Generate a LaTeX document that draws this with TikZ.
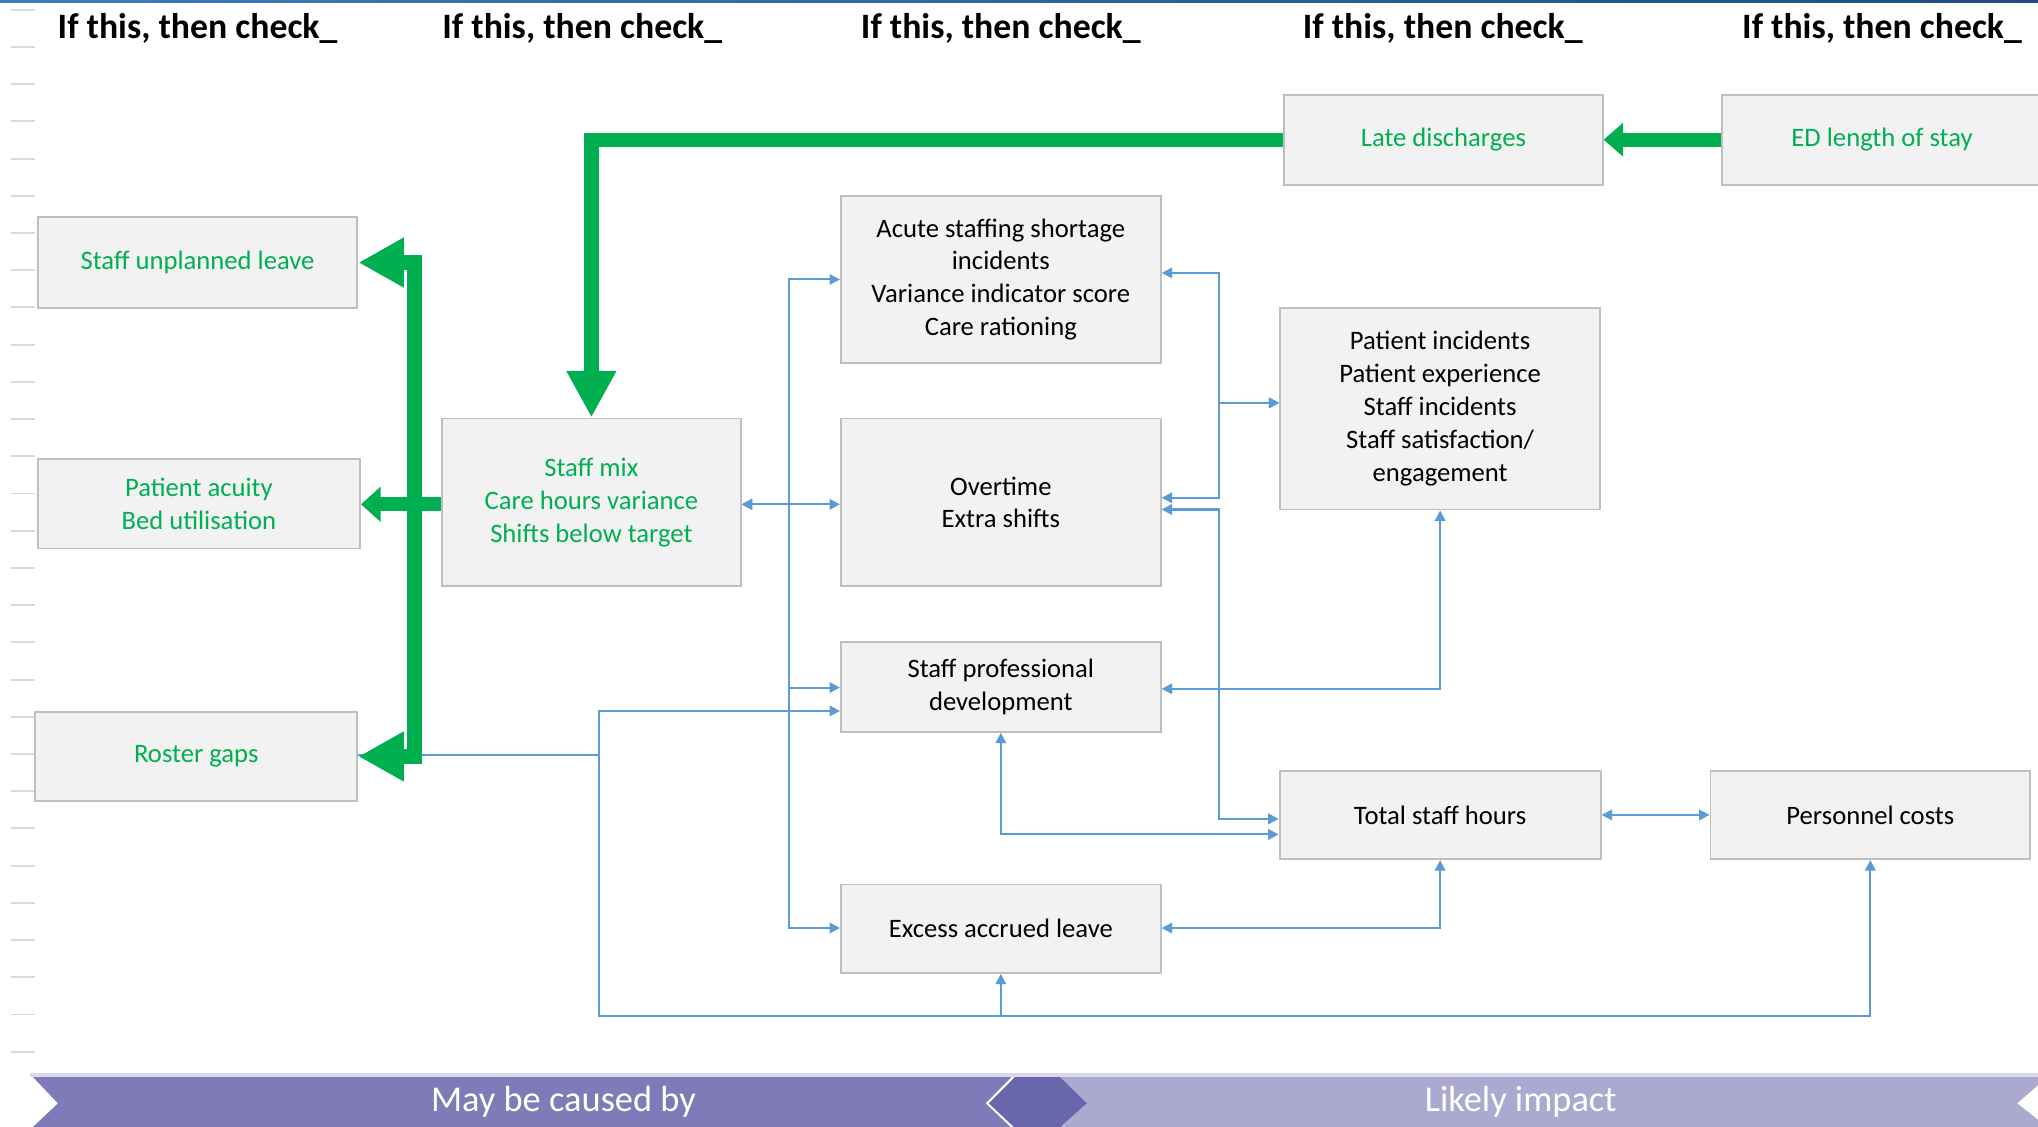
\documentclass[tikz,border=0pt]{standalone}
\usepackage{fontspec}
\setmainfont{Carlito}
\usetikzlibrary{arrows.meta,calc}
\definecolor{boxfill}{HTML}{F2F2F2}
\definecolor{boxline}{HTML}{BFBFBF}
\definecolor{gr}{HTML}{00B050}
\definecolor{bl}{HTML}{5B9BD5}
\definecolor{tickc}{HTML}{D9D9D9}
\definecolor{banA}{HTML}{7F7BB9}
\definecolor{banB}{HTML}{6966AB}
\definecolor{banC}{HTML}{ABA9D0}
\definecolor{stripc}{HTML}{DAD8EA}
\definecolor{topA}{HTML}{3F7CB8}
\definecolor{topB}{HTML}{5DB6C9}
\definecolor{topC}{HTML}{1F4E79}
\begin{document}
\begin{tikzpicture}[x=1pt,y=-1pt,
  box/.style={draw=boxline, fill=boxfill, line width=1.5pt, align=center, inner sep=0pt,
              font=\fontsize{20.5}{25.3}\selectfont, text=black},
  gbox/.style={box, text=gr},
  hdr/.style={font=\bfseries\fontsize{27.5}{30}\selectfont, inner sep=0pt, text=black},
  bn/.style={font=\fontsize{28}{32}\selectfont, text=white, inner sep=0pt},
  blink/.style={draw=bl, line width=1.6pt, {Triangle[length=8pt,width=8pt]}-{Triangle[length=8pt,width=8pt]}},
  bto/.style={draw=bl, line width=1.6pt, -{Triangle[length=8pt,width=8pt]}},
  gline/.style={draw=gr, line width=11pt},
]
\useasboundingbox (0,0) rectangle (1568,867);
\clip (0,0) rectangle (1568,867);
\fill[white] (0,0) rectangle (1568,867);

% top gradient line
\shade[left color=topA, middle color=topB, right color=topC] (0,0) rectangle (1568,1.8);

% left ticks
\foreach \k in {0,...,28}
  \draw[tickc, line width=1.5pt] (8.6,{7.5+28.63*\k}) -- (26.7,{7.5+28.63*\k});

% headers
\node[hdr] (h1) at (152,22) {If this, then check\_};
\node[hdr] (h2) at (448,22) {If this, then check\_};
\node[hdr] (h3) at (770,22) {If this, then check\_};
\node[hdr] (h4) at (1110,22) {If this, then check\_};
\node[hdr] (h5) at (1448,22) {If this, then check\_};

% boxes
\node[gbox, minimum width=246pt, minimum height=70pt] (sul) at (152,202) {Staff unplanned leave};
\node[gbox, minimum width=248pt, minimum height=69pt] (pab) at (153,387.5) {Patient acuity\\Bed utilisation};
\node[gbox, minimum width=248pt, minimum height=68pt] (rg) at (151,582) {Roster gaps};
\node[gbox, minimum width=230pt, minimum height=129pt] (sm) at (455,386.5) {Staff mix\\Care hours variance\\Shifts below target};
\node[box, minimum width=246pt, minimum height=128pt] (acute) at (770,215) {Acute staffing shortage\\incidents\\Variance indicator score\\Care rationing};
\node[box, minimum width=246pt, minimum height=129pt] (ot) at (770,386.5) {Overtime\\Extra shifts};
\node[box, minimum width=246pt, minimum height=69pt] (spd) at (770,528.5) {Staff professional\\development};
\node[box, minimum width=246pt, minimum height=68pt] (eal) at (770,714.5) {Excess accrued leave};
\node[gbox, minimum width=245pt, minimum height=69pt] (ld) at (1110.5,107.5) {Late discharges};
\node[gbox, minimum width=246pt, minimum height=69pt] (ed) at (1448,107.5) {ED length of stay};
\node[box, minimum width=246pt, minimum height=155pt] (pi) at (1108,314.5) {Patient incidents\\Patient experience\\Staff incidents\\Staff satisfaction/\\engagement};
\node[box, minimum width=247pt, minimum height=68pt] (tsh) at (1108,627) {Total staff hours};
\node[box, minimum width=246pt, minimum height=68pt] (pc) at (1439,627) {Personnel costs};

% blue connectors
\draw[blink] (sm.east |- 0,388) -- (607,388) |- (acute.west |- 0,215);
\draw[blink] (sm.east |- 0,388) -- (ot.west |- 0,388);
\draw[blink] (sm.east |- 0,388) -- (607,388) |- (spd.west |- 0,529);
\draw[blink] (sm.east |- 0,388) -- (607,388) |- (eal.west |- 0,714);
\draw[blink] (pi.west |- 0,310) -- (938,310) |- (acute.east |- 0,210);
\draw[blink] (pi.west |- 0,310) -- (938,310) |- (ot.east |- 0,383);
\draw[blink] (ot.east |- 0,392) -- (938,392) |- (tsh.west |- 0,630);
\draw[blink] (spd.east |- 0,530) -| (pi.south);
\draw[blink] (spd.south) |- (tsh.west |- 0,642);
\draw[blink] (eal.east |- 0,714) -| (tsh.south);
\draw[blink] (tsh.east) -- (pc.west);
\draw[bto] (rg.east |- 0,581) -- (461,581) |- (spd.west |- 0,547);
\draw[bto] (rg.east |- 0,581) -- (461,581) |- (eal.south |- 0,782) -- (eal.south);
\draw[bto] (rg.east |- 0,581) -- (461,581) |- (pc.south |- 0,782) -- (pc.south);

% green connectors
\draw[gline, line width=12pt, {Triangle[length=35pt,width=36pt]}-{Triangle[length=35pt,width=36pt]}]
  (sul.east) -- (sul.east -| 319,0) -- (rg.east -| 319,0) -- (rg.east);
\draw[gline, -{Triangle[length=15pt,width=26pt]}] (sm.west |- 0,388) -- (pab.east |- 0,388);
\draw[gline, -{Triangle[length=36pt,width=36pt]}] (ld.west) -- (ld.west -| sm.north) -- (sm.north);
\draw[gline, -{Triangle[length=15pt,width=25pt]}] (ed.west) -- (ld.east);

% bottom banner
\fill[stripc] (23,825.6) rectangle (1568,828.9);
\fill[banA] (25.4,828.7) -- (778.2,828.7) -- (758.2,848.9) -- (777.4,867) -- (25.4,867) -- (44.6,848.9) -- cycle;
\fill[banB] (780.8,828.7) -- (815.8,828.7) -- (836.5,848.9) -- (816,867) -- (780,867) -- (760.8,848.9) -- cycle;
\fill[banC] (815.8,828.7) -- (1575,828.7) -- (1552,848.9) -- (1575,867) -- (816,867) -- (836.5,848.9) -- cycle;
\node[bn] (b1) at (433.5,848) {May be caused by};
\node[bn] (b2) at (1170,848) {Likely impact};
\end{tikzpicture}
\end{document}
